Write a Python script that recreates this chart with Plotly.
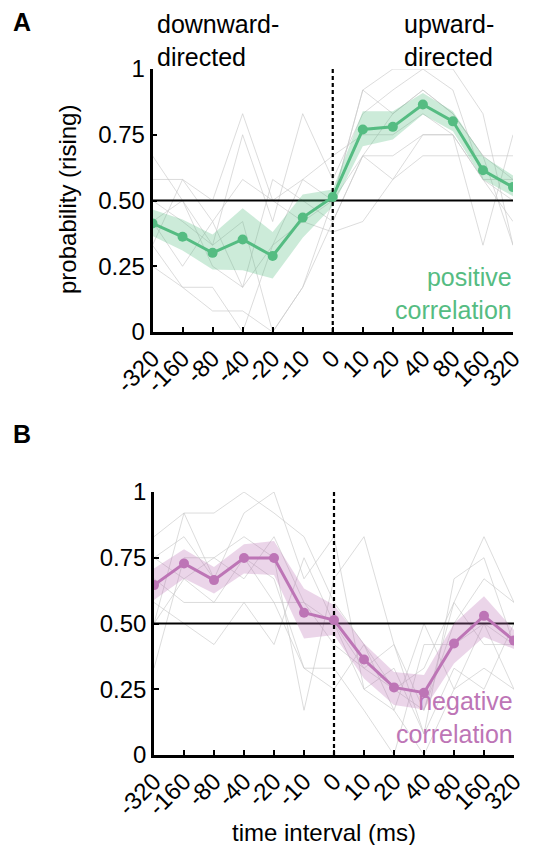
import plotly.graph_objects as go

W, H = 541, 845
OFF = 8  # page body margin offset

categories = ["-320", "-160", "-80", "-40", "-20", "-10", "0", "10", "20", "40", "80", "160", "320"]
ytick_vals = [0, 0.25, 0.5, 0.75, 1]
ytick_text = ["0", "0.25", "0.50", "0.75", "1"]
chance = 0.5

# Panel A: positive correlation
pos_mean = [0.413, 0.362, 0.301, 0.352, 0.289, 0.435, 0.513, 0.770, 0.780, 0.865, 0.801, 0.615, 0.551]
pos_upper = [0.466, 0.428, 0.371, 0.471, 0.380, 0.523, 0.542, 0.839, 0.839, 0.909, 0.839, 0.668, 0.595]
pos_lower = [0.365, 0.310, 0.238, 0.235, 0.203, 0.358, 0.478, 0.706, 0.732, 0.827, 0.763, 0.580, 0.516]
pos_subjects = [
    [0.58, 0.58, 0.50, 0.83, 0.50, 0.42, 0.50, 0.92, 1.00, 1.00, 0.92, 0.58, 0.42],
    [0.67, 0.50, 0.33, 0.75, 0.42, 0.83, 0.58, 0.83, 0.92, 1.00, 1.00, 0.83, 0.33],
    [0.33, 0.58, 0.42, 0.17, 0.58, 0.50, 0.42, 0.67, 0.58, 0.75, 0.75, 0.33, 0.75],
    [0.25, 0.17, 0.08, 0.08, 0.00, 0.17, 0.50, 0.92, 0.83, 0.92, 0.83, 0.67, 0.58],
    [0.42, 0.25, 0.42, 0.58, 0.50, 0.58, 0.67, 0.75, 0.75, 0.83, 0.75, 0.58, 0.50],
    [0.33, 0.17, 0.17, 0.00, 0.33, 0.42, 0.38, 0.42, 0.58, 0.67, 0.67, 0.67, 0.67],
    [0.50, 0.42, 0.33, 0.42, 0.00, 0.17, 0.42, 0.67, 0.67, 0.75, 0.75, 0.58, 0.58],
    [0.42, 0.50, 0.25, 0.17, 0.33, 0.58, 0.50, 0.67, 0.83, 0.92, 0.83, 0.67, 0.33],
]

# Panel B: negative correlation
neg_mean = [0.646, 0.728, 0.665, 0.749, 0.749, 0.541, 0.513, 0.363, 0.257, 0.237, 0.424, 0.529, 0.435]
neg_upper = [0.709, 0.782, 0.715, 0.801, 0.814, 0.633, 0.570, 0.424, 0.316, 0.304, 0.500, 0.604, 0.475]
neg_lower = [0.589, 0.671, 0.614, 0.690, 0.684, 0.443, 0.456, 0.291, 0.190, 0.173, 0.348, 0.449, 0.403]
neg_subjects = [
    [0.83, 0.92, 0.92, 1.00, 0.92, 0.83, 0.58, 0.42, 0.25, 0.17, 0.58, 0.83, 0.58],
    [0.75, 0.83, 0.67, 0.92, 1.00, 0.67, 0.83, 0.25, 0.33, 0.08, 0.67, 0.75, 0.42],
    [0.33, 0.75, 0.75, 0.83, 0.75, 0.17, 0.67, 0.83, 0.42, 0.17, 0.50, 0.67, 0.58],
    [0.58, 0.50, 0.42, 0.58, 0.42, 0.75, 0.50, 0.25, 0.17, 0.50, 0.25, 0.33, 0.25],
    [0.67, 0.58, 0.58, 0.58, 0.58, 0.33, 0.33, 0.17, 0.00, 0.42, 0.42, 0.50, 0.42],
    [0.50, 0.67, 0.75, 0.67, 0.83, 0.58, 0.42, 0.33, 0.25, 0.33, 0.58, 0.42, 0.42],
    [0.75, 0.67, 0.58, 0.75, 0.67, 0.33, 0.25, 0.42, 0.17, 0.00, 0.25, 0.50, 0.25],
    [0.50, 0.92, 0.67, 0.75, 0.58, 0.58, 0.50, 0.33, 0.42, 0.08, 0.33, 0.25, 0.50],
]

FONT = "Liberation Sans, Arial, sans-serif"
GREEN = "#55bc82"
GREEN_BAND = "rgba(85,188,130,0.30)"
PURPLE = "#bd75b6"
PURPLE_BAND = "rgba(189,117,182,0.30)"

xi = list(range(len(categories)))
zero_idx = categories.index("0")

fig = go.Figure()


def add_panel(xa, ya, subjects, mean, upper, lower, color, band):
    for s in subjects:
        fig.add_trace(go.Scatter(x=xi, y=s, mode="lines", xaxis=xa, yaxis=ya,
                                 line=dict(color="rgba(200,200,200,0.8)", width=0.8),
                                 hoverinfo="skip", showlegend=False))
    fig.add_trace(go.Scatter(x=[xi[0], xi[-1]], y=[chance, chance], mode="lines",
                             xaxis=xa, yaxis=ya, line=dict(color="black", width=2.2),
                             showlegend=False, hoverinfo="skip"))
    fig.add_trace(go.Scatter(x=xi + xi[::-1], y=upper + lower[::-1], mode="lines",
                             fill="toself", fillcolor=band, line=dict(width=0),
                             xaxis=xa, yaxis=ya, showlegend=False, hoverinfo="skip"))
    fig.add_trace(go.Scatter(x=[zero_idx, zero_idx], y=[0, 1], mode="lines",
                             xaxis=xa, yaxis=ya,
                             line=dict(color="black", width=2.2, dash="4px,3px"),
                             showlegend=False, hoverinfo="skip"))
    fig.add_trace(go.Scatter(x=xi, y=mean, mode="lines+markers", xaxis=xa, yaxis=ya,
                             line=dict(color=color, width=3),
                             marker=dict(color=color, size=10),
                             showlegend=False))


add_panel("x", "y", pos_subjects, pos_mean, pos_upper, pos_lower, GREEN, GREEN_BAND)
add_panel("x2", "y2", neg_subjects, neg_mean, neg_upper, neg_lower, PURPLE, PURPLE_BAND)


def px(v):
    return (v - OFF) / W


def py(v):
    return 1 - (v - OFF) / H


axis_common = dict(showgrid=False, zeroline=False, showline=True, linecolor="black",
                   linewidth=2.5, ticks="inside", ticklen=5, tickwidth=2, automargin=False,
                   tickcolor="black", tickfont=dict(family=FONT, size=24, color="black"))

fig.update_layout(
    width=W, height=H,
    margin=dict(l=0, r=0, t=0, b=0),
    paper_bgcolor="white", plot_bgcolor="white",
    xaxis=dict(domain=[px(152.5), px(513)], range=[xi[0], xi[-1]], anchor="y",
               tickvals=xi, ticktext=categories, tickangle=-45, **axis_common),
    yaxis=dict(domain=[py(332), py(69)], range=[0, 1], anchor="x",
               tickvals=ytick_vals, ticktext=ytick_text, **axis_common),
    xaxis2=dict(domain=[px(154), px(514)], range=[xi[0], xi[-1]], anchor="y2",
                tickvals=xi, ticktext=categories, tickangle=-45, **axis_common),
    yaxis2=dict(domain=[py(755), py(492)], range=[0, 1], anchor="x2",
                tickvals=ytick_vals, ticktext=ytick_text, **axis_common),
    showlegend=False,
)

ann = [
    dict(text="<b>A</b>", x=px(11), y=py(6), xanchor="left", yanchor="top", size=25, color="black"),
    dict(text="<b>B</b>", x=px(11), y=py(418), xanchor="left", yanchor="top", size=25, color="black"),
    dict(text="downward-<br>directed", x=px(155), y=py(8), xanchor="left", yanchor="top", size=25, color="black", align="left"),
    dict(text="upward-<br>directed", x=px(402), y=py(8), xanchor="left", yanchor="top", size=25, color="black", align="left"),
    dict(text="positive<br>correlation", x=px(514), y=py(326), xanchor="right", yanchor="bottom", size=25, color=GREEN, align="right"),
    dict(text="negative<br>correlation", x=px(515), y=py(750), xanchor="right", yanchor="bottom", size=25, color=PURPLE, align="right"),
    dict(text="time interval (ms)", x=px(324), y=py(832), xanchor="center", yanchor="middle", size=24, color="black"),
    dict(text="probability (rising)", x=px(68), y=py(200), xanchor="center", yanchor="middle", size=24, color="black", textangle=-90),
]
for a in ann:
    fig.add_annotation(text=a["text"], x=a["x"], y=a["y"], xref="paper", yref="paper",
                       xanchor=a["xanchor"], yanchor=a["yanchor"], showarrow=False,
                       align=a.get("align", "center"), textangle=a.get("textangle", 0),
                       font=dict(family=FONT, size=a["size"], color=a["color"]))

fig.write_html("out.html")
